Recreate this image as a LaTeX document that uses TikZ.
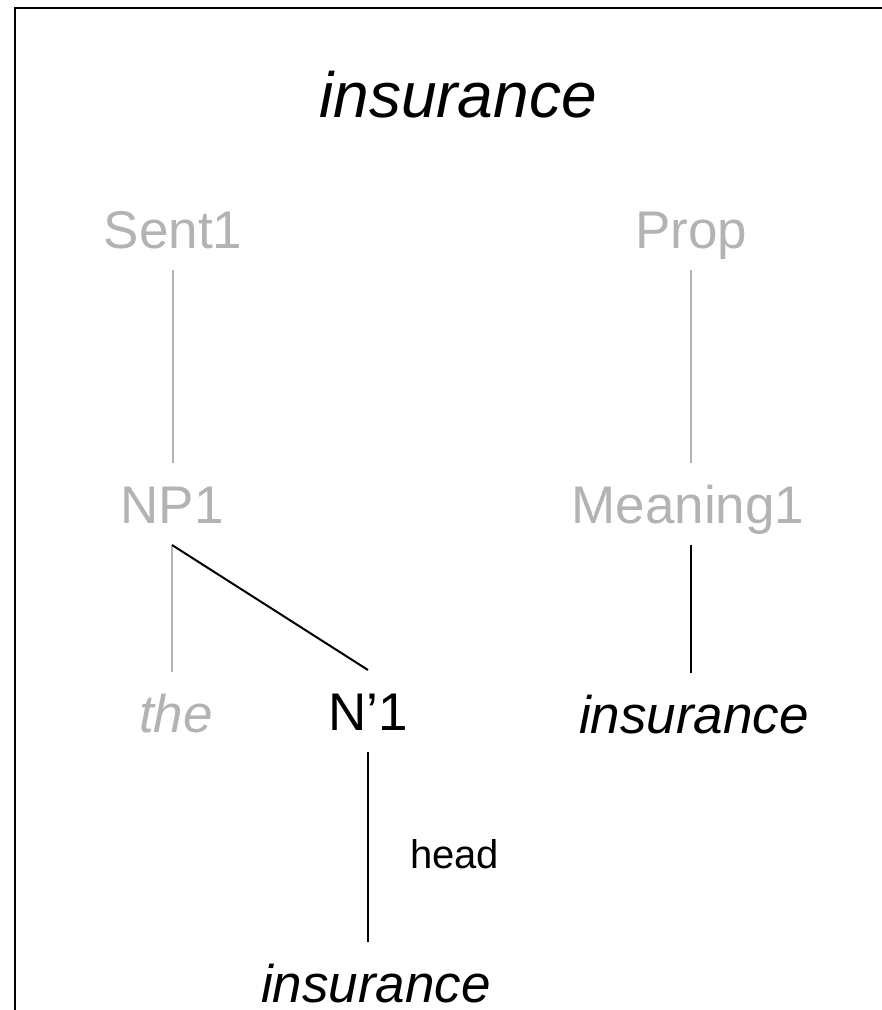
\documentclass[tikz,border=0pt]{standalone}
\usepackage{fontspec}
\setmainfont{Liberation Sans}
\definecolor{lightgrey}{RGB}{179,179,179}
\begin{document}
\begin{tikzpicture}[x=1pt,y=-1pt,
  lbl/.style={anchor=base,inner sep=0pt,outer ysep=22pt,text height=38pt,text depth=0pt,font=\fontsize{53}{60}\selectfont},
  faded/.style={text=lightgrey},
  gline/.style={draw=lightgrey,line width=1.5pt},
  bline/.style={draw=black,line width=2pt}]
\useasboundingbox (0,0) rectangle (882,1010);
\draw[line width=2pt] (15,1010) -- (15,8) -- (882,8);
\node[anchor=base,inner sep=0pt,font=\fontsize{64}{72}\selectfont\itshape] (title) at (458,117) {insurance};
\node[lbl,faded] (sent) at (173,248) {Sent1};
\node[lbl,faded] (prop) at (691,248) {Prop};
\node[lbl,faded] (np) at (172,523) {NP1};
\node[lbl,faded] (meaning) at (688,523) {Meaning1};
\node[lbl,faded,font=\fontsize{53}{60}\selectfont\itshape] (the) at (176,732) {the};
\node[lbl] (nbar) at (368,730) {N’1};
\node[lbl,font=\fontsize{53}{60}\selectfont\itshape] (insR) at (694,733) {insurance};
\node[lbl,font=\fontsize{53}{60}\selectfont\itshape] (insB) at (376,1002) {insurance};
\node[anchor=base west,inner sep=0pt,font=\fontsize{40}{46}\selectfont] (head) at (410,868) {head};
\draw[gline] (sent.south) -- (sent.south |- np.north);
\draw[gline] (prop.south) -- (prop.south |- meaning.north);
\draw[gline] (np.south) -- (np.south |- the.north);
\draw[bline] (np.south) -- (nbar.north);
\draw[bline] (meaning.south -| prop.south) -- (insR.north -| prop.south);
\draw[bline] (nbar.south) -- (nbar.south |- insB.north);
\end{tikzpicture}
\end{document}
